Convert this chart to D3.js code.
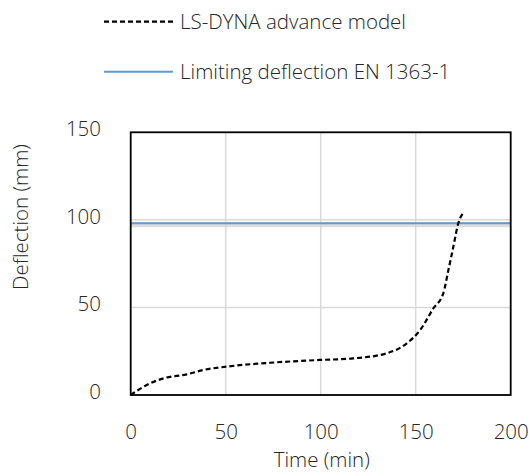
<!DOCTYPE html>
<html>
<head>
<meta charset="utf-8">
<script src="https://cdn.jsdelivr.net/npm/d3@7"></script>
<style>
body{margin:0;background:#fff;}
text{font-family:"Open Sans","Noto Sans",sans-serif;font-weight:300;fill:#262626;}
</style>
</head>
<body>
<svg id="chart" width="530" height="474"></svg>
<script>
const timeMin = [0, 8.4, 17.2, 29.5, 38.2, 50.5, 73.3, 99.6, 117, 134.7, 145.3, 152.3, 159.3, 164.5, 167.2, 169.8, 172.4, 175.4];
const deflection = [0, 5.7, 9.5, 11.8, 14.3, 16.2, 18.4, 20, 20.9, 23.8, 29.5, 37, 49.5, 58, 71.3, 84.6, 97.9, 104.6];
const limitDeflection = 98;
const xTicks = [0, 50, 100, 150, 200];
const yTicks = [0, 50, 100, 150];
const seriesNames = ["LS-DYNA advance model", "Limiting deflection EN 1363-1"];
const xTitle = "Time (min)";
const yTitle = "Deflection (mm)";

const svg = d3.select("#chart");
const m = {left:130.7, right:510.7, top:132.3, bottom:395};
const x = d3.scaleLinear().domain([0,200]).range([m.left, m.right]);
const y = d3.scaleLinear().domain([0,150]).range([m.bottom, m.top]);

// gridlines
const g = svg.append("g");
g.selectAll(".vg").data(xTicks.slice(1,-1)).enter().append("line")
  .attr("x1",d=>x(d)).attr("x2",d=>x(d)).attr("y1",y(150)).attr("y2",y(0))
  .attr("stroke","#d9d9d9").attr("stroke-width",1.5);
g.selectAll(".hg").data(yTicks.slice(1,-1)).enter().append("line")
  .attr("x1",x(0)).attr("x2",x(200)).attr("y1",d=>y(d)).attr("y2",d=>y(d))
  .attr("stroke","#d9d9d9").attr("stroke-width",1.5);

// limiting line (with soft glow)
svg.append("line").attr("x1",x(0)).attr("x2",x(200))
  .attr("y1",y(limitDeflection)+1.5).attr("y2",y(limitDeflection)+1.5)
  .attr("stroke","#d0d0d0").attr("stroke-width",5).attr("opacity",0.7);
svg.append("line").attr("x1",x(0)).attr("x2",x(200))
  .attr("y1",y(limitDeflection)).attr("y2",y(limitDeflection))
  .attr("stroke","#5b9bd5").attr("stroke-width",2);

// curve
const data = timeMin.map((t,i)=>[t, deflection[i]]);
const line = d3.line().x(d=>x(d[0])).y(d=>y(d[1])).curve(d3.curveMonotoneX);
svg.append("path").datum(data).attr("d",line)
  .attr("fill","none").attr("stroke","#000").attr("stroke-width",2.2)
  .attr("stroke-dasharray","5,3");

// border
svg.append("rect").attr("x",x(0)).attr("y",y(150)).attr("width",x(200)-x(0)).attr("height",y(0)-y(150))
  .attr("fill","none").attr("stroke","#000").attr("stroke-width",1.8);

// axes (labels only)
const fs = 20.5;
const ff = "Open Sans";
const xAxis = d3.axisBottom(x).tickValues(xTicks).tickSize(0).tickPadding(0);
const xg = svg.append("g").attr("transform",`translate(0,${m.bottom+44})`).call(xAxis);
xg.select(".domain").remove();
xg.selectAll("text").attr("font-size",fs).attr("fill","#262626").attr("dy",0).attr("font-family",ff).attr("font-weight",300);
const yAxis = d3.axisLeft(y).tickValues(yTicks).tickSize(0).tickPadding(0);
const yg = svg.append("g").attr("transform",`translate(101,-4)`).call(yAxis);
yg.select(".domain").remove();
yg.selectAll("text").attr("font-size",fs).attr("fill","#262626").attr("dy","0.35em").attr("font-family",ff).attr("font-weight",300);

svg.append("text").attr("x",321.7).attr("y",467).attr("text-anchor","middle").attr("font-size",fs).text(xTitle);
svg.append("text").attr("transform","translate(28,217) rotate(-90)").attr("text-anchor","middle").attr("font-size",fs).text(yTitle);

// legend
const leg = [{name:seriesNames[0], y:21.7, dash:"5,3", color:"#000", w:2.2},
             {name:seriesNames[1], y:71.7, dash:null, color:"#5b9bd5", w:2}];
leg.forEach(l=>{
  svg.append("line").attr("x1",104).attr("x2",173).attr("y1",l.y).attr("y2",l.y)
    .attr("stroke",l.color).attr("stroke-width",l.w).attr("stroke-dasharray",l.dash);
  svg.append("text").attr("x",180).attr("y",l.y).attr("dy","0.35em").attr("font-size",fs).text(l.name);
});
</script>
</body>
</html>
